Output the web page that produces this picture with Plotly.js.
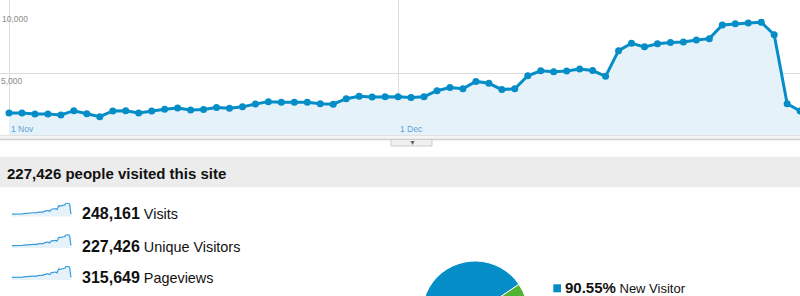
<!DOCTYPE html>
<html>
<head>
<meta charset="utf-8">
<script src="https://cdn.plot.ly/plotly-3.0.1.min.js"></script>
<style>
  html, body { margin: 0; padding: 0; background: #fff; }
  #wrap { width: 800px; height: 296px; overflow: hidden; position: relative; }
  #chart { width: 800px; height: 380px; }
</style>
</head>
<body>
<div id="wrap"><div id="chart"></div></div>
<script>
// ---------- data ----------
const startDate = '2010-11-01';
const visits = [1770,1770,1690,1690,1610,1960,1720,1480,1940,1960,
                1770,1940,2070,2180,2020,2060,2220,2150,2270,2500,
                2690,2640,2640,2640,2520,2480,2930,3130,3070,3080,
                3090,3020,3090,3570,3830,3730,4320,4170,3660,3730,
                4780,5180,5100,5160,5320,5200,4730,6800,7400,7110,
                7360,7460,7500,7660,7770,8870,8980,9030,9090,8090,
                2520,1940];
const xTickVals = ['2010-11-01', '2010-12-01'];
const xTickText = ['1 Nov', '1 Dec'];
const yTickVals = [5000, 10000];
const yTickText = ['5,000', '10,000'];
const headline = '227,426 people visited this site';
const metricValues = [248161, 227426, 315649];
const metricLabels = ['Visits', 'Unique Visitors', 'Pageviews'];
const pieLabels = ['New Visitor', 'Returning Visitor'];
const pieValues = [90.55, 9.45];

// ---------- helpers ----------
const W = 800, H = 380;
const DAY = 86400000;
const t0 = Date.parse(startDate + 'T00:00:00Z');
function fmt(ms) { return new Date(ms).toISOString().replace('T', ' ').replace('Z', ''); }
const days = visits.map((_, i) => fmt(t0 + i * DAY));
const px = x => x / W;
const py = y => (H - y) / H;
const FONT = 'Arial, "Liberation Sans", sans-serif';
const BLUE = '#058dc7', FILL = '#e6f2fa', GREEN = '#50b432';

const traces = [];
// main area chart
traces.push({
  type: 'scatter', mode: 'lines+markers', x: days, y: visits,
  xaxis: 'x', yaxis: 'y', fill: 'tozeroy', fillcolor: FILL,
  line: { color: BLUE, width: 3 }, marker: { color: BLUE, size: 7 },
  hoverinfo: 'skip'
});
// sparklines
const sparkBottoms = [216.7, 248.3, 280];
for (let k = 0; k < 3; k++) {
  traces.push({
    type: 'scatter', mode: 'lines', x: days, y: visits,
    xaxis: 'x' + (k + 2), yaxis: 'y' + (k + 2), fill: 'tozeroy', fillcolor: FILL,
    line: { color: '#3a9ad9', width: 1.2 }, hoverinfo: 'skip'
  });
}
// pie
traces.push({
  type: 'pie', labels: pieLabels, values: pieValues, sort: false,
  direction: 'clockwise', rotation: 90, textinfo: 'none', hoverinfo: 'skip',
  marker: { colors: [BLUE, GREEN], line: { color: '#fff', width: 1 } },
  domain: { x: [px(422), px(528)], y: [py(367), py(261)] },
  showlegend: false
});

const mainRange = [fmt(t0 - 0.694 * DAY), fmt(t0 + 60.99 * DAY)];
const layout = {
  width: W, height: H, margin: { l: 0, r: 0, t: 0, b: 0 },
  paper_bgcolor: '#fff', plot_bgcolor: 'rgba(0,0,0,0)', showlegend: false,
  font: { family: FONT, color: '#000' },
  xaxis: { type: 'date', domain: [0, 1], anchor: 'y', range: mainRange,
           tickvals: xTickVals, showticklabels: false, showgrid: true,
           gridcolor: '#dcdcdc', gridwidth: 1, zeroline: false, showline: false, ticks: '' },
  yaxis: { domain: [py(135), 1], anchor: 'x', range: [0, 135 / 62 * 5000],
           tickvals: [yTickVals[0]], showticklabels: false, showgrid: true,
           gridcolor: '#dcdcdc', gridwidth: 1, zeroline: false, showline: false, ticks: '' },
  shapes: [], annotations: []
};
for (let k = 0; k < 3; k++) {
  const xa = 'xaxis' + (k + 2), ya = 'yaxis' + (k + 2);
  layout[xa] = { type: 'date', domain: [px(11.7), px(71.7)], anchor: 'y' + (k + 2),
                 range: [days[0], days[days.length - 1]], visible: false };
  layout[ya] = { domain: [py(sparkBottoms[k]), py(sparkBottoms[k] - 14)], anchor: 'x' + (k + 2),
                 range: [0, 9300], visible: false };
}

// chart frame decorations
layout.shapes.push(
  { type: 'line', xref: 'paper', yref: 'paper', x0: 0, x1: 1, y0: py(135.5), y1: py(135.5),
    line: { color: '#e2e2e2', width: 1 } },
  { type: 'rect', xref: 'paper', yref: 'paper', x0: 0, x1: 1, y0: py(139.5), y1: py(136),
    fillcolor: '#f4f4f4', line: { width: 0 } },
  { type: 'line', xref: 'paper', yref: 'paper', x0: 0, x1: 1, y0: py(139.5), y1: py(139.5),
    line: { color: '#cfcfcf', width: 1.5 } },
  { type: 'rect', xref: 'paper', yref: 'paper', x0: px(391), x1: px(432), y0: py(146), y1: py(139.5),
    fillcolor: '#f0f0f0', line: { color: '#cccccc', width: 1 } },
  { type: 'rect', xref: 'paper', yref: 'paper', x0: 0, x1: 1, y0: py(187.3), y1: py(156.7),
    fillcolor: '#ececec', line: { width: 0 }, layer: 'below' },
  { type: 'rect', xref: 'paper', yref: 'paper', x0: px(553.3), x1: px(561), y0: py(292.3), y1: py(284.3),
    fillcolor: BLUE, line: { width: 0 } }
);

// axis labels (placed via the axes)
xTickVals.forEach((v, i) => layout.annotations.push({
  xref: 'x', yref: 'paper', x: v, y: py(128.8), xanchor: 'left', yanchor: 'middle', xshift: 0,
  text: xTickText[i], showarrow: false, font: { size: 8.5, color: '#5b9fd4', family: FONT }
}));
yTickVals.forEach((v, i) => layout.annotations.push({
  xref: 'paper', yref: 'y', x: 0, y: v, xanchor: 'left', yanchor: 'top', yshift: -1,
  xshift: v >= 10000 ? 0 : -1.5,
  text: yTickText[i], showarrow: false, font: { size: 8.5, color: '#8a8a8a', family: FONT }
}));
// dropdown arrow
layout.annotations.push({ xref: 'paper', yref: 'paper', x: px(412), y: py(142.5), showarrow: false,
  text: '▼', font: { size: 7, color: '#666' }, xanchor: 'center', yanchor: 'middle' });
// headline
layout.annotations.push({ xref: 'paper', yref: 'paper', x: px(4.5), y: py(173.3), xanchor: 'left', yanchor: 'middle',
  showarrow: false, text: '<b>' + headline + '</b>', font: { size: 15, color: '#111', family: FONT } });
// metric rows
const rowY = [213.3, 246, 277.7];
metricValues.forEach((v, i) => layout.annotations.push({
  xref: 'paper', yref: 'paper', x: px(80.3), y: py(rowY[i]), xanchor: 'left', yanchor: 'middle', showarrow: false,
  text: '<span style="font-size:16px"><b>' + v.toLocaleString('en-US') + '</b></span> ' + metricLabels[i],
  font: { size: 14.4, color: '#111', family: FONT }
}));
// pie legend
layout.annotations.push({ xref: 'paper', yref: 'paper', x: px(563.3), y: py(287.7), xanchor: 'left', yanchor: 'middle',
  showarrow: false,
  text: '<span style="font-size:15px"><b>' + pieValues[0].toFixed(2) + '%</b></span> ' + pieLabels[0],
  font: { size: 13, color: '#111', family: FONT } });

Plotly.newPlot('chart', traces, layout, { staticPlot: true, displayModeBar: false });
</script>
</body>
</html>
